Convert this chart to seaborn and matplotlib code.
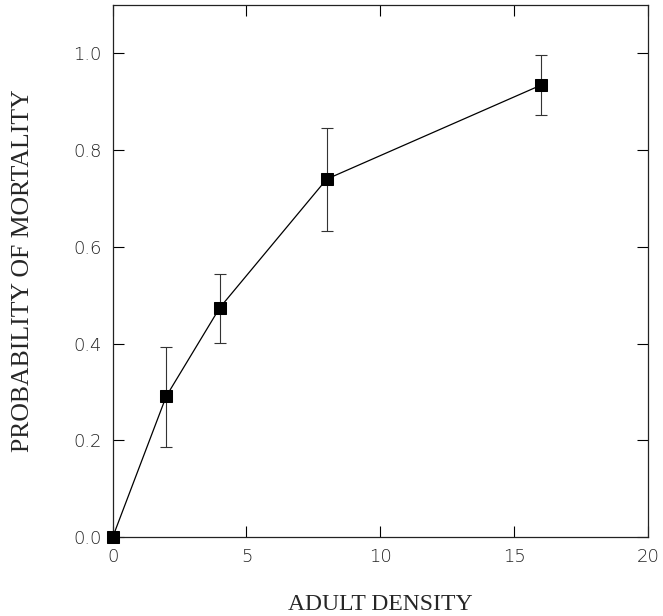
import numpy as np
import pandas as pd
import matplotlib
matplotlib.use('Agg')
import matplotlib.pyplot as plt
import seaborn as sns

# values
density = [0, 2, 4, 8, 16]
mortality = [0.0, 0.291, 0.474, 0.740, 0.934]
err_upper = [0.0, 0.394, 0.544, 0.845, 0.997]
err_lower = [0.0, 0.186, 0.402, 0.633, 0.872]

df = pd.DataFrame({'density': density, 'mortality': mortality})

sns.set_style('ticks')
plt.rcParams['font.family'] = ['DejaVu Sans']

fig = plt.figure(figsize=(6.63, 6.16), dpi=100)
ax = fig.add_axes([0.170, 0.128, 0.807, 0.864])

yerr = np.array([np.subtract(mortality, err_lower), np.subtract(err_upper, mortality)])
ax.errorbar(density, mortality, yerr=yerr, fmt='none', ecolor='#333333',
            elinewidth=0.8, capsize=4, capthick=0.8, zorder=2)
sns.lineplot(data=df, x='density', y='mortality', ax=ax, color='black',
             linewidth=0.9, marker='s', markersize=9, markeredgecolor='black',
             markerfacecolor='black', clip_on=False, zorder=3)

ax.set_xlim(0, 20)
ax.set_ylim(0, 1.1)
ax.set_xticks([0, 5, 10, 15, 20])
ax.set_yticks([0.0, 0.2, 0.4, 0.6, 0.8, 1.0])
ax.set_yticklabels(['0.0', '0.2', '0.4', '0.6', '0.8', '1.0'])
ax.tick_params(direction='in', length=8, width=0.8, top=True, right=True,
               labelsize=13, colors='black', pad=8)
for lab in ax.get_xticklabels() + ax.get_yticklabels():
    lab.set_color('#222222')
    lab.set_fontweight('light')
for sp in ax.spines.values():
    sp.set_linewidth(0.9)
    sp.set_color('#222222')

ax.set_xlabel('ADULT DENSITY', fontsize=17, family='Liberation Serif', labelpad=20)
ax.set_ylabel('PROBABILITY OF MORTALITY', fontsize=18.5, family='Liberation Serif')
ax.yaxis.set_label_coords(-0.148, 0.5)

fig.savefig('out.png', dpi=100)
